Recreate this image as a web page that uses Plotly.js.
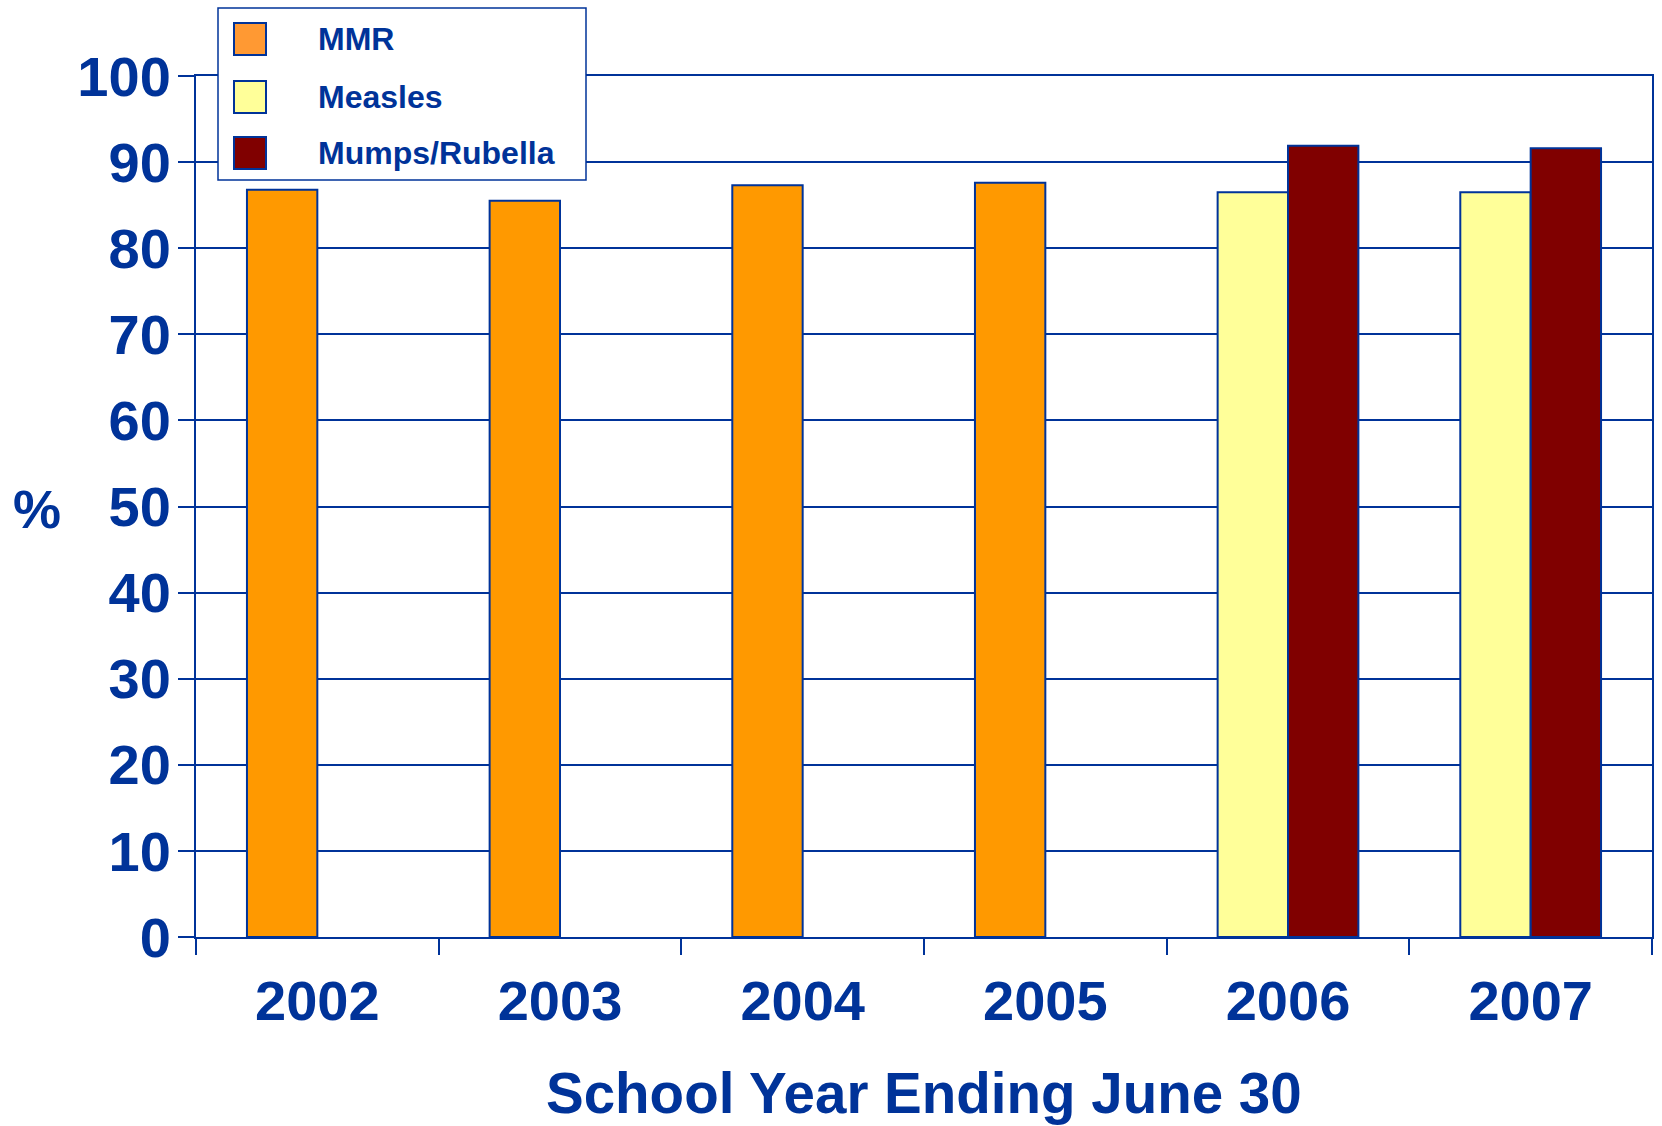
<!DOCTYPE html>
<html>
<head>
<meta charset="utf-8">
<script src="https://cdn.plot.ly/plotly-3.0.1.min.js"></script>
<style>
  html, body { margin: 0; padding: 0; background: #ffffff; }
  #chart { width: 1662px; height: 1126px; }
</style>
</head>
<body>
<div id="chart"></div>
<script>
// ---- data ----
const years = ['2002', '2003', '2004', '2005', '2006', '2007'];
const mmr = [86.8, 85.5, 87.3, 87.6, null, null];
const measles = [null, null, null, null, 86.5, 86.5];
const mumpsRubella = [null, null, null, null, 91.9, 91.6];
const seriesNames = ['MMR', 'Measles', 'Mumps/Rubella'];
const yTicks = [0, 10, 20, 30, 40, 50, 60, 70, 80, 90, 100];

// ---- styling ----
const BLUE = '#003399';
const FONT = 'Liberation Sans, Arial, sans-serif';
const W = 1662, H = 1126;
const M = { l: 196, r: 10, t: 76, b: 189 };
const PW = W - M.l - M.r, PH = H - M.t - M.b;
const px2x = px => (px - M.l) / PW;
const py2y = py => (H - M.b - py) / PH;
const LW = 2;

const BW = 0.29;
function barTrace(name, vals, color, offset) {
  return {
    type: 'bar', name: name, x: years, y: vals,
    width: BW, offset: offset,
    marker: { color: color, line: { color: BLUE, width: LW } },
    showlegend: false, hoverinfo: 'x+y+name'
  };
}

const data = [
  barTrace(seriesNames[0], mmr, '#FF9900', -BW),
  barTrace(seriesNames[1], measles, '#FFFF99', -BW),
  barTrace(seriesNames[2], mumpsRubella, '#800000', 0)
];

// manual legend (large swatches as in the reference)
const legendColors = ['#FF9933', '#FFFF99', '#800000'];
const legendRows = [39, 97, 153];
const shapes = [{
  type: 'rect', xref: 'paper', yref: 'paper', layer: 'above',
  x0: px2x(218), x1: px2x(586), y0: py2y(180), y1: py2y(8),
  fillcolor: '#ffffff', line: { color: BLUE, width: 1.5 }
}];
const annotations = [];
seriesNames.forEach((n, i) => {
  const cy = legendRows[i];
  shapes.push({
    type: 'rect', xref: 'paper', yref: 'paper', layer: 'above',
    x0: px2x(234), x1: px2x(266), y0: py2y(cy + 16), y1: py2y(cy - 16),
    fillcolor: legendColors[i], line: { color: BLUE, width: 2 }
  });
  annotations.push({
    xref: 'paper', yref: 'paper', x: px2x(316), y: py2y(cy),
    xanchor: 'left', yanchor: 'middle', showarrow: false, text: n,
    font: { family: FONT, size: 32, color: BLUE, weight: 'bold' }
  });
});
annotations.push({
  xref: 'paper', yref: 'paper', x: px2x(37), y: py2y(509),
  xanchor: 'center', yanchor: 'middle', showarrow: false, text: '%',
  font: { family: FONT, size: 54, color: BLUE, weight: 'bold' }
});
annotations.push({
  xref: 'paper', yref: 'paper', x: 0.5, y: py2y(1093),
  xanchor: 'center', yanchor: 'middle', showarrow: false,
  text: 'School Year Ending June 30',
  font: { family: FONT, size: 56.5, color: BLUE, weight: 'bold' }
});

const layout = {
  width: W, height: H,
  margin: M,
  paper_bgcolor: '#ffffff', plot_bgcolor: '#ffffff',
  barmode: 'overlay',
  showlegend: false,
  font: { family: FONT, color: BLUE },
  xaxis: {
    type: 'category', categoryorder: 'array', categoryarray: years,
    range: [-0.5, 5.5],
    showline: true, linecolor: BLUE, linewidth: LW, mirror: true,
    ticks: 'outside', tickson: 'boundaries', ticklen: 16, tickwidth: LW, tickcolor: BLUE,
    showgrid: false, zeroline: false,
    tickfont: { family: FONT, size: 56, color: BLUE, weight: 'bold' },
    ticklabelstandoff: 14
  },
  yaxis: {
    range: [0, 100], tickvals: yTicks,
    showline: true, linecolor: BLUE, linewidth: LW, mirror: true,
    ticks: 'outside', ticklen: 16, tickwidth: LW, tickcolor: BLUE,
    showgrid: true, gridcolor: BLUE, gridwidth: LW,
    zeroline: false,
    tickfont: { family: FONT, size: 56, color: BLUE, weight: 'bold' },
    ticklabelstandoff: -4
  },
  shapes: shapes,
  annotations: annotations
};

Plotly.newPlot('chart', data, layout, { displayModeBar: false, staticPlot: true });
</script>
</body>
</html>
